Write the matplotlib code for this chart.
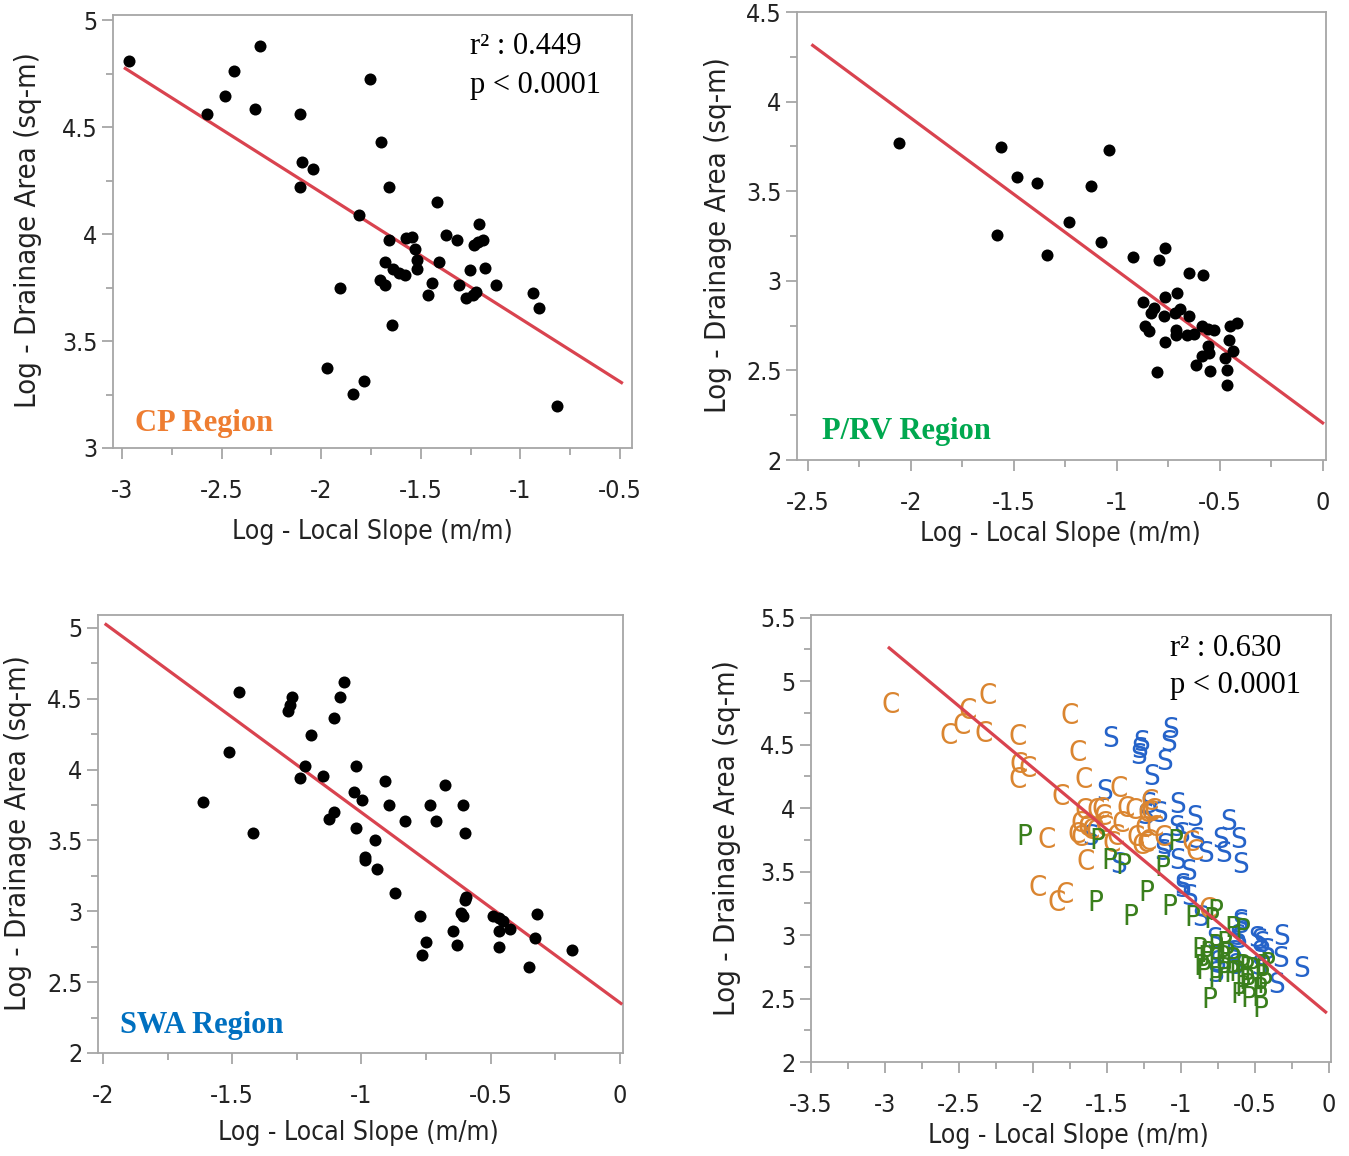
import matplotlib
matplotlib.use("Agg")
import matplotlib.pyplot as plt
import matplotlib.font_manager as fm
from matplotlib.ticker import MultipleLocator, FormatStrFormatter

# ---------------- data ----------------
cp_x = [-2.963, -2.308, -2.439, -2.485, -2.571, -2.333, -2.104, -1.755, -1.699, -2.094,
        -2.039, -2.104, -1.658, -1.810, -1.418, -1.209, -1.376, -1.320, -1.235, -1.214,
        -1.189, -1.660, -1.574, -1.546, -1.529, -1.520, -1.517, -1.682, -1.639, -1.609,
        -1.580, -1.410, -1.253, -1.180, -1.704, -1.682, -1.444, -1.466, -1.308, -1.274,
        -1.240, -1.223, -1.124, -0.937, -0.908, -1.908, -1.646, -1.971, -1.784, -1.842,
        -0.818]
cp_y = [4.812, 4.882, 4.762, 4.644, 4.564, 4.586, 4.561, 4.727, 4.432, 4.338,
        4.304, 4.220, 4.220, 4.090, 4.150, 4.046, 3.996, 3.973, 3.949, 3.962,
        3.973, 3.973, 3.980, 3.988, 3.929, 3.878, 3.839, 3.871, 3.839, 3.819,
        3.808, 3.871, 3.834, 3.844, 3.787, 3.761, 3.773, 3.714, 3.761, 3.701,
        3.714, 3.729, 3.761, 3.726, 3.656, 3.748, 3.573, 3.372, 3.312, 3.254,
        3.196]

prv_x = [-2.057, -1.564, -1.485, -1.388, -1.125, -1.038, -1.582, -1.232, -1.341, -1.077,
         -0.923, -0.798, -0.768, -0.652, -0.584, -0.875, -0.768, -0.709, -0.819, -0.836,
         -0.769, -0.694, -0.719, -0.652, -0.862, -0.846, -0.766, -0.714, -0.711, -0.661,
         -0.627, -0.585, -0.560, -0.527, -0.452, -0.418, -0.457, -0.435, -0.560, -0.552,
         -0.585, -0.614, -0.547, -0.473, -0.468, -0.806, -0.465]
prv_y = [3.768, 3.744, 3.582, 3.543, 3.530, 3.731, 3.253, 3.330, 3.142, 3.218,
         3.131, 3.118, 3.181, 3.044, 3.031, 2.882, 2.908, 2.932, 2.850, 2.821,
         2.802, 2.845, 2.821, 2.806, 2.747, 2.719, 2.657, 2.728, 2.695, 2.695,
         2.701, 2.747, 2.732, 2.728, 2.747, 2.765, 2.668, 2.607, 2.635, 2.598,
         2.580, 2.528, 2.496, 2.570, 2.505, 2.492, 2.416]

swa_x = [-1.611, -1.513, -1.473, -1.420, -1.284, -1.276, -1.267, -1.196, -1.217, -1.236,
         -1.147, -1.107, -1.084, -1.067, -1.125, -1.107, -1.020, -1.027, -0.996, -1.020,
         -0.949, -0.987, -0.987, -0.941, -0.909, -0.893, -0.831, -0.869, -0.733, -0.677,
         -0.711, -0.607, -0.600, -0.600, -0.597, -0.773, -0.749, -0.765, -0.647, -0.616,
         -0.607, -0.629, -0.489, -0.467, -0.453, -0.469, -0.424, -0.469, -0.351, -0.327,
         -0.319, -0.184]
swa_y = [3.769, 4.124, 4.544, 3.551, 4.411, 4.458, 4.509, 4.241, 4.026, 3.939,
         3.956, 4.360, 4.509, 4.614, 3.652, 3.703, 4.023, 3.839, 3.787, 3.586,
         3.500, 3.383, 3.364, 3.301, 3.921, 3.752, 3.636, 3.131, 3.752, 3.890,
         3.636, 3.752, 3.551, 3.079, 3.103, 2.963, 2.780, 2.694, 2.862, 2.986,
         2.963, 2.759, 2.967, 2.951, 2.928, 2.862, 2.876, 2.745, 2.607, 2.811,
         2.981, 2.729]

# fitted lines: [slope, intercept], drawn over [x_start, x_end]
cp_fit = [-0.590, 3.015]
cp_fit_range = [-2.99, -0.486]
prv_fit = [-0.851, 2.206]
prv_fit_range = [-2.483, 0.005]
swa_fit = [-1.342, 2.355]
swa_fit_range = [-1.993, 0.009]
all_fit = [-0.972, 2.372]
all_fit_range = [-2.98, -0.014]

r2_cp = "0.449"
r2_all = "0.630"
p_text = "p < 0.0001"

region_names = ["CP Region", "P/RV Region", "SWA Region"]
letters = {"C": (cp_x, cp_y), "S": (swa_x, swa_y), "P": (prv_x, prv_y)}

# ---------------- style ----------------
names = {f.name for f in fm.fontManager.ttflist}
if "Liberation Sans Narrow" in names:
    SANS = dict(family="Liberation Sans Narrow")
    tsize = 21
else:
    SANS = dict(family="DejaVu Sans", stretch="condensed")
    tsize = 17
SERIF = "Liberation Serif"

plt.rcParams["axes.unicode_minus"] = False

W, H = 1349, 1156
fig = plt.figure(figsize=(W / 100, H / 100), dpi=100)

GRAY = "#A6A6A6"
RED = "#D9434F"


def make_axes(left, right, top, bottom, xlim, ylim, xmaj, ymaj):
    ax = fig.add_axes([left / W, 1 - bottom / H, (right - left) / W, (bottom - top) / H])
    ax.set_xlim(*xlim)
    ax.set_ylim(*ylim)
    for s in ax.spines.values():
        s.set_color(GRAY)
        s.set_linewidth(1.3)
    ax.xaxis.set_major_locator(MultipleLocator(xmaj))
    ax.xaxis.set_minor_locator(MultipleLocator(xmaj / 2))
    ax.yaxis.set_major_locator(MultipleLocator(ymaj))
    ax.yaxis.set_minor_locator(MultipleLocator(ymaj / 2))
    ax.xaxis.set_major_formatter(FormatStrFormatter("%g"))
    ax.yaxis.set_major_formatter(FormatStrFormatter("%g"))
    ax.tick_params(which="major", direction="out", length=8, width=1.3, color=GRAY,
                   labelsize=tsize + 1, labelcolor="#222222")
    ax.tick_params(which="minor", direction="out", length=5, width=1.3, color=GRAY)
    ax.tick_params(axis="x", which="major", pad=14)
    ax.tick_params(axis="y", which="major", pad=3)
    for lab in ax.get_xticklabels() + ax.get_yticklabels():
        lab.set_fontfamily(SANS["family"])
        if "stretch" in SANS:
            lab.set_fontstretch(SANS["stretch"])
    return ax


def fit_line(ax, fit, rng):
    xs = [rng[0], rng[1]]
    ys = [fit[0] * v + fit[1] for v in xs]
    ax.plot(xs, ys, color=RED, lw=2.3, solid_capstyle="butt", zorder=3)


def labels(xc_x, xc_y, yc_x, yc_y):
    fig.text(xc_x / W, 1 - xc_y / H, "Log - Local Slope (m/m)", ha="center", va="center",
             fontsize=tsize + 2, color="#222222", **SANS)
    fig.text(yc_x / W, 1 - yc_y / H, "Log - Drainage Area (sq-m)", ha="center", va="center",
             rotation=90, fontsize=tsize + 4, color="#222222", **SANS)


def region(px, py, txt, color):
    fig.text(px / W, 1 - py / H, txt, ha="left", va="center", fontsize=22,
             fontweight="bold", family=SERIF, color=color)


def stats(px, py, r2):
    fig.text(px / W, 1 - py / H, "r\u00b2 : " + r2, ha="left", va="center",
             fontsize=22, family=SERIF, color="black")
    fig.text(px / W, 1 - (py + 38) / H, p_text, ha="left", va="center",
             fontsize=22, family=SERIF, color="black")


# Panel 1: CP
ax1 = make_axes(113, 632, 15, 448, (-3.045, -0.44), (3, 5.025), 0.5, 0.5)
ax1.scatter(cp_x, cp_y, s=75, color="black", zorder=4, linewidths=0)
fit_line(ax1, cp_fit, cp_fit_range)
labels(372, 532, 28, 230)
region(135, 423, region_names[0], "#EE7D31")
stats(470, 47, r2_cp)

# Panel 2: P/RV
ax2 = make_axes(797, 1326, 12, 460, (-2.553, 0.015), (2, 4.5), 0.5, 0.5)
ax2.scatter(prv_x, prv_y, s=75, color="black", zorder=4, linewidths=0)
fit_line(ax2, prv_fit, prv_fit_range)
labels(1060, 534, 718, 235)
region(822, 431, region_names[1], "#00A84F")

# Panel 3: SWA
ax3 = make_axes(98, 623, 615, 1053, (-2.019, 0.012), (2, 5.09), 0.5, 0.5)
ax3.scatter(swa_x, swa_y, s=75, color="black", zorder=4, linewidths=0)
fit_line(ax3, swa_fit, swa_fit_range)
labels(358, 1133, 18, 833)
region(120, 1025, region_names[2], "#0070C0")

# Panel 4: all regions
ax4 = make_axes(811, 1331, 615, 1062, (-3.5, 0.014), (2, 5.52), 0.5, 0.5)
colors = {"C": "#DA8530", "S": "#2563C9", "P": "#3A7F1C"}
for letter in ["S", "C", "P"]:
    xs, ys = letters[letter]
    for xv, yv in zip(xs, ys):
        ax4.text(xv, yv, letter, ha="center", va="center", fontsize=tsize + 4,
                 color=colors[letter], zorder=2, **SANS)
fit_line(ax4, all_fit, all_fit_range)
labels(1068, 1136, 727, 838)
stats(1170, 648, r2_all)

fig.savefig("out.png", dpi=100)
